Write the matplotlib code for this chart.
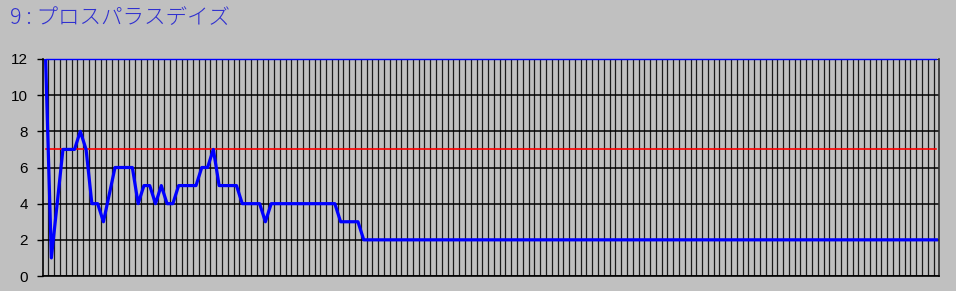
import matplotlib.pyplot as plt
import numpy as np

plt.rcParams['font.family'] = ['Liberation Sans', 'DejaVu Sans']

title = "9 : プロスパラスデイズ"

# one value per category
series_main = ([12, 1, 4, 7, 7, 7, 8, 7, 4, 4, 3, 4.5, 6, 6, 6, 6, 4, 5, 5, 4,
                5, 4, 4, 5, 5, 5, 5, 6, 6, 7, 5, 5, 5, 5, 4, 4, 4, 4, 3]
               + [4] * 12 + [3] * 4 + [2] * 100)
series_ref = [7] * 155
series_top = [12] * 155
y_ticks = [0, 2, 4, 6, 8, 10, 12]

x = np.arange(len(series_main))

fig = plt.figure(figsize=(9.56, 2.91), dpi=100, facecolor='#c0c0c0')
ax = fig.add_axes([42.7 / 956, 15 / 291, 896.6 / 956, 217 / 291])
ax.set_facecolor('#c0c0c0')

ax.plot(x, series_top, color='#0000ff', lw=1.0, clip_on=False, zorder=4)
ax.plot(x, series_ref, color='#ff0000', lw=1.2, zorder=3)
ax.plot(x, series_main, color='#0000ff', lw=2.3, zorder=5)

ax.set_xlim(-0.5, len(x) - 0.5)
ax.set_ylim(0, 12)

# gridlines between categories
ax.set_xticks(np.arange(0.5, len(x) - 1, 1))
ax.set_xticklabels([])
ax.tick_params(axis='x', length=0)
ax.set_yticks(y_ticks)
ax.set_yticklabels([str(v) for v in y_ticks], fontsize=11)
ax.tick_params(axis='y', direction='out', length=4.5, width=1.0, pad=6, colors='black')
ax.grid(axis='x', color='#1a1a1a', lw=0.9)
ax.grid(axis='y', color='black', lw=1.1)
ax.set_axisbelow(True)

for s in ['left', 'bottom']:
    ax.spines[s].set_color('black')
    ax.spines[s].set_linewidth(1.2)
ax.spines['right'].set_color('#303030')
ax.spines['right'].set_linewidth(1.2)
ax.spines['top'].set_visible(False)

fig.text(10 / 956, 1 - 18 / 291, title, color='#3030d0', fontsize=15.5,
         fontweight='light', va='center', ha='left',
         family=['Noto Sans CJK JP', 'DejaVu Sans'])

fig.savefig('out.png', dpi=100, facecolor='#c0c0c0')
